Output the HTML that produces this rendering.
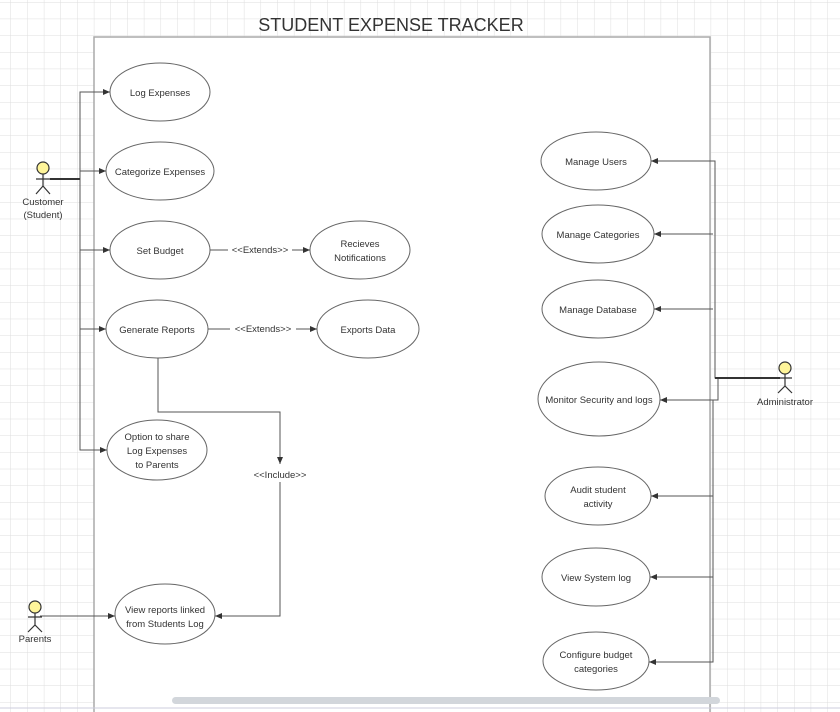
<!DOCTYPE html>
<html><head><meta charset="utf-8"><style>
html,body{margin:0;padding:0;background:#fff;}
svg{display:block;font-family:"Liberation Sans",Arial,sans-serif;}
</style></head><body>
<svg width="840" height="712" viewBox="0 0 840 712" xmlns="http://www.w3.org/2000/svg">
<defs>
<pattern id="g" x="10.5" y="2" width="16.67" height="16.67" patternUnits="userSpaceOnUse">
<path d="M0 0H16.67M0 0V16.67" stroke="#dedede" stroke-width="1" fill="none"/>
</pattern>
<marker id="a" markerWidth="8" markerHeight="8" refX="7" refY="3" orient="auto" markerUnits="userSpaceOnUse">
<path d="M0 0L7 3L0 6z" fill="#333"/>
</marker>
</defs>
<rect width="840" height="712" fill="url(#g)"/>
<rect x="94" y="37" width="616" height="680" fill="#fff" stroke="#aaa" stroke-width="1.5"/>
<text x="391" y="31" font-size="18" text-anchor="middle" fill="#333">STUDENT EXPENSE TRACKER</text>
<g fill="#fff" stroke="#666" stroke-width="1">
<ellipse cx="160" cy="92" rx="50" ry="29"/>
<ellipse cx="160" cy="171" rx="54" ry="29"/>
<ellipse cx="160" cy="250" rx="50" ry="29"/>
<ellipse cx="360" cy="250" rx="50" ry="29"/>
<ellipse cx="157" cy="329" rx="51" ry="29"/>
<ellipse cx="368" cy="329" rx="51" ry="29"/>
<ellipse cx="157" cy="450" rx="50" ry="30"/>
<ellipse cx="165" cy="614" rx="50" ry="30"/>
<ellipse cx="596" cy="161" rx="55" ry="29"/>
<ellipse cx="598" cy="234" rx="56" ry="29"/>
<ellipse cx="598" cy="309" rx="56" ry="29"/>
<ellipse cx="599" cy="399" rx="61" ry="37"/>
<ellipse cx="598" cy="496" rx="53" ry="29"/>
<ellipse cx="596" cy="577" rx="54" ry="29"/>
<ellipse cx="596" cy="661" rx="53" ry="29"/>
</g>
<g fill="none" stroke="#555" stroke-width="1">
<path d="M50 179H80V92H110" marker-end="url(#a)"/>
<path d="M80 171H106" marker-end="url(#a)"/>
<path d="M80 179V250H110" marker-end="url(#a)"/>
<path d="M80 250V329H106" marker-end="url(#a)"/>
<path d="M80 329V450H107" marker-end="url(#a)"/>
<path d="M210 250H228"/><path d="M292 250H310" marker-end="url(#a)"/>
<path d="M208 329H230"/><path d="M296 329H317" marker-end="url(#a)"/>
<path d="M158 358V412H280V464" marker-end="url(#a)"/>
<path d="M280 482V616H215" marker-end="url(#a)"/>
<path d="M40 616H115" marker-end="url(#a)"/>
<path d="M780 378H715V161H651" marker-end="url(#a)"/>
<path d="M713 234H654" marker-end="url(#a)"/>
<path d="M713 309H654" marker-end="url(#a)"/>
<path d="M718 378V400H660" marker-end="url(#a)"/>
<path d="M713 400V496H651" marker-end="url(#a)"/>
<path d="M713 496V577H650" marker-end="url(#a)"/>
<path d="M713 577V662H649" marker-end="url(#a)"/>
</g>
<path d="M50 179H80" stroke="#333" stroke-width="2"/>
<path d="M780 378H715" stroke="#333" stroke-width="2"/>
<g fill="#333" font-size="9.5" text-anchor="middle">
<text x="160" y="96">Log Expenses</text>
<text x="160" y="175">Categorize Expenses</text>
<text x="160" y="254">Set Budget</text>
<text x="360" y="247">Recieves</text><text x="360" y="261">Notifications</text>
<text x="157" y="333">Generate Reports</text>
<text x="368" y="333">Exports Data</text>
<text x="260" y="253">&lt;&lt;Extends&gt;&gt;</text>
<text x="263" y="332">&lt;&lt;Extends&gt;&gt;</text>
<text x="280" y="478">&lt;&lt;Include&gt;&gt;</text>
<text x="157" y="440">Option to share</text><text x="157" y="454">Log Expenses</text><text x="157" y="468">to Parents</text>
<text x="165" y="613">View reports linked</text><text x="165" y="627">from Students Log</text>
<text x="596" y="165">Manage Users</text>
<text x="598" y="238">Manage Categories</text>
<text x="598" y="313">Manage Database</text>
<text x="599" y="403">Monitor Security and logs</text>
<text x="598" y="493">Audit student</text><text x="598" y="507">activity</text>
<text x="596" y="581">View System log</text>
<text x="596" y="658">Configure budget</text><text x="596" y="672">categories</text>
<text x="43" y="205">Customer</text><text x="43" y="218">(Student)</text>
<text x="35" y="642">Parents</text>
<text x="785" y="405">Administrator</text>
</g>
<g fill="#fff59a" stroke="#333" stroke-width="1.2">
<circle cx="43" cy="168" r="6"/>
<circle cx="35" cy="607" r="6"/>
<circle cx="785" cy="368" r="6"/>
</g>
<g stroke="#333" stroke-width="1.2" fill="none">
<path d="M43 174V186M36 179H50M36 194L43 186L50 194"/>
<path d="M35 613V625M28 617H42M28 632L35 625L42 632"/>
<path d="M785 374V386M778 378H792M778 393L785 386L792 393"/>
</g>
<rect x="172" y="697" width="548" height="7" rx="3.5" fill="#d2d6db"/>
<path d="M0 708H840" stroke="#ccd" stroke-width="1"/>
</svg>
</body></html>
